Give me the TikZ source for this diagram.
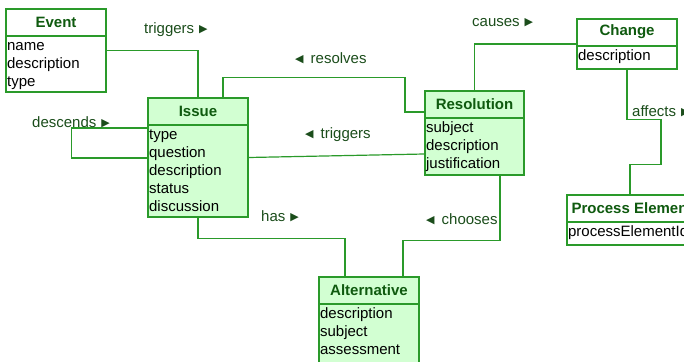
\documentclass[tikz,border=0pt]{standalone}
\usepackage{fontspec}
\setmainfont{Liberation Sans}
\newfontfamily\symfont{DejaVu Sans}
\definecolor{umlline}{HTML}{2A9A2A}
\definecolor{umlfill}{HTML}{D2FFD2}
\definecolor{umltitle}{HTML}{0F5A0F}
\definecolor{umllabel}{HTML}{1B4D1B}
\newcommand{\rtri}{\raisebox{1pt}{\symfont\fontsize{11}{11}\selectfont ▶}}
\newcommand{\ltri}{\raisebox{1pt}{\symfont\fontsize{11}{11}\selectfont ◀}}
\begin{document}
\begin{tikzpicture}[x=1pt,y=-1pt,
  box/.style={draw=umlline, line width=1.2pt, rectangle, inner sep=0pt},
  whitebox/.style={box, fill=white},
  greenbox/.style={box, fill=umlfill},
  divider/.style={draw=umlline, line width=1.2pt},
  title/.style={font=\bfseries\fontsize{15}{18}\selectfont, text=umltitle, inner sep=0pt},
  attr/.style={anchor=north west, align=left, inner xsep=1.5pt, inner ysep=2pt, font=\fontsize{15}{18}\selectfont, text=black},
  conn/.style={draw=umlline, line width=1.2pt},
  lbl/.style={anchor=west, inner sep=0pt, font=\fontsize{15}{17}\selectfont, text=umllabel}
]
\useasboundingbox (0,0) rectangle (684,361);
\clip (0,0) rectangle (684,361);

% Event
\node[whitebox, minimum width=100pt, minimum height=83pt] (event) at (56,50.5) {};
\draw[divider] (event.west |- 0,36) -- (event.east |- 0,36);
\node[title] (eventtitle) at (56,22) {Event};
\node[attr] (eventattr) at (event.west |- 0,36) {\strut name\\description\\type};

% Issue
\node[greenbox, minimum width=100pt, minimum height=119pt] (issue) at (198,157.5) {};
\draw[divider] (issue.west |- 0,125) -- (issue.east |- 0,125);
\node[title] (issuetitle) at (198,111.5) {Issue};
\node[attr] (issueattr) at (issue.west |- 0,125) {\strut type\\question\\description\\status\\discussion};

% Resolution
\node[greenbox, minimum width=99pt, minimum height=84pt] (resolution) at (474.5,133) {};
\draw[divider] (resolution.west |- 0,118) -- (resolution.east |- 0,118);
\node[title] (resolutiontitle) at (474.5,104) {Resolution};
\node[attr] (resolutionattr) at (resolution.west |- 0,118) {\strut subject\\description\\justification};

% Change
\node[whitebox, minimum width=100pt, minimum height=50pt] (change) at (627,44) {};
\draw[divider] (change.west |- 0,46) -- (change.east |- 0,46);
\node[title] (changetitle) at (627,32) {Change};
\node[attr] (changeattr) at (change.west |- 0,46) {\strut description};

% Process Element
\node[whitebox, minimum width=130pt, minimum height=50pt] (pe) at (632,220) {};
\draw[divider] (pe.west |- 0,222) -- (pe.east |- 0,222);
\node[title] (petitle) at (632,208.5) {Process Element};
\node[attr] (peattr) at (pe.west |- 0,222) {\strut processElementId};

% Alternative
\node[greenbox, minimum width=100pt, minimum height=108pt] (alt) at (369,331) {};
\draw[divider] (alt.west |- 0,304) -- (alt.east |- 0,304);
\node[title] (alttitle) at (369,290.5) {Alternative};
\node[attr] (altattr) at (alt.west |- 0,304) {\strut description\\subject\\assessment};

% Connectors
\draw[conn] (event.east) -| (issue.north);
\draw[conn] ([xshift=25pt]issue.north) -- ++(0,-20) -| (405,100) |- ([yshift=21pt]resolution.west);
\draw[conn] (issue.east) -- ([yshift=-21pt]resolution.west);
\draw[conn] ([yshift=29.5pt]issue.west) -- ++(-76,0) |- ([yshift=-0.5pt]issue.west);
\draw[conn] (issue.south) -- ++(0,21) -| ([xshift=-24pt]alt.north);
\draw[conn] ([xshift=25.5pt]resolution.south) -- ++(0,65) -| ([xshift=34pt]alt.north);
\draw[conn] (resolution.north) |- (change.west);
\draw[conn] (change.south) -- ++(0,50) -- ++(34,0) -- ++(0,45) -| ([xshift=-2pt]pe.north);

% Labels
\node[lbl] (l1) at (144,30) {triggers\hspace{5pt}\rtri};
\node[lbl] (l2) at (295,58) {\ltri\hspace{7pt}resolves};
\node[lbl] (l3) at (305,135) {\ltri\hspace{7pt}triggers};
\node[lbl] (l4) at (32,122) {descends\hspace{5pt}\rtri};
\node[lbl] (l5) at (261,216) {has\hspace{5pt}\rtri};
\node[lbl] (l6) at (426,219) {\ltri\hspace{7pt}chooses};
\node[lbl] (l7) at (472,23) {causes\hspace{5pt}\rtri};
\node[lbl] (l8) at (632,111) {affects\hspace{5pt}\rtri};
\end{tikzpicture}
\end{document}
